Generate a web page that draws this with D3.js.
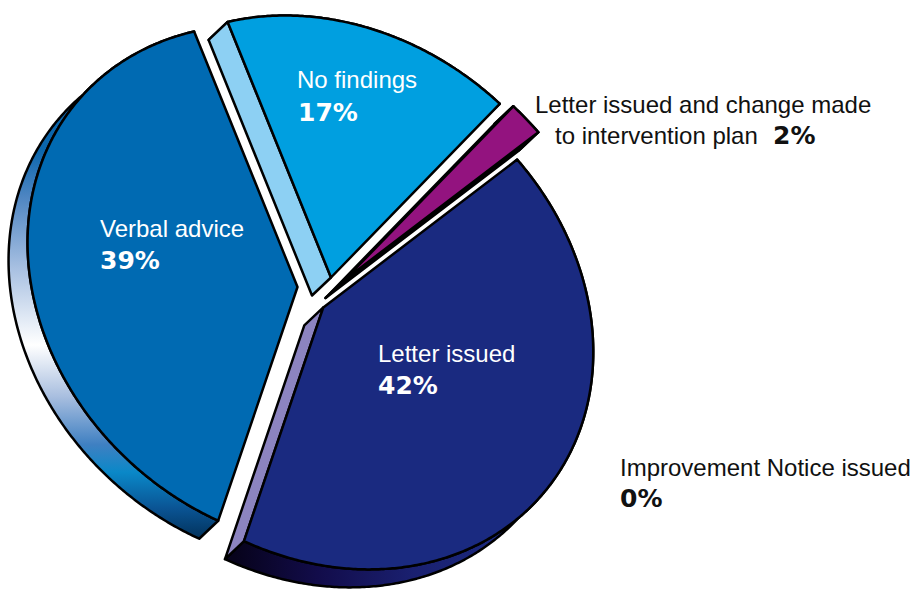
<!DOCTYPE html>
<html>
<head>
<meta charset="utf-8">
<script src="https://cdn.jsdelivr.net/npm/d3@7"></script>
<style>
  html,body{margin:0;padding:0;background:#fff;}
  svg{display:block;}
</style>
</head>
<body>
<svg id="chart" width="923" height="592"></svg>
<script>
// ---------------- data ----------------
const categories = [
  "No findings",
  "Letter issued and change made to intervention plan",
  "Improvement Notice issued",
  "Letter issued",
  "Verbal advice"
];
const values = [17, 2, 0, 42, 39];          // percent
const valueLabels = ["17%", "2%", "0%", "42%", "39%"];

// ---------------- layout / style (not data) ----------------
const W = 923, H = 592;
const center = [316, 296];
const semiMajor = 288, semiMinor = 242, tiltDeg = 40;
const startDeg = 342.3;
const depth = [-19, 18];
const explode = {                     // per-slice explosion offset (px)
  "No findings": [15, -18.5],
  "Letter issued and change made to intervention plan": [28.5, -16],
  "Improvement Notice issued": [0, 0],
  "Letter issued": [7.3, 11.4],
  "Verbal advice": [-18.5, -9]
};
const styles = {
  "No findings": {top: "#009fe0", startWall: "#8dd0f3", endWall: "#0088c8", arcWall: "#0077b8"},
  "Letter issued and change made to intervention plan": {top: "#93137f", startWall: "#000", endWall: "#000", arcWall: "#000"},
  "Improvement Notice issued": {top: "#ccc", startWall: "#999", endWall: "#999", arcWall: "#999"},
  "Letter issued": {top: "#1a2a80", startWall: "#1a2a80", endWall: "#8c84c0", arcWall: "url(#gradLetter)"},
  "Verbal advice": {top: "#006ab2", startWall: "#004f88", endWall: "#004f88", arcWall: "url(#gradVerbal)"}
};
const labelLayout = {
  "No findings": {x: 297, y: 88, color: "#fff", lines: ["No findings"], pct: [298, 121]},
  "Verbal advice": {x: 100, y: 237, color: "#fff", lines: ["Verbal advice"], pct: [100, 269]},
  "Letter issued": {x: 378, y: 362, color: "#fff", lines: ["Letter issued"], pct: [378, 394]},
  "Letter issued and change made to intervention plan": {x: 535, y: 113, color: "#111",
      lines: ["Letter issued and change made", "to intervention plan"], lineX: [535, 555], lineDy: 31, pct: [773, 144]},
  "Improvement Notice issued": {x: 620, y: 476, color: "#111", lines: ["Improvement Notice issued"], pct: [620, 507]}
};

// ---------------- drawing ----------------
const svg = d3.select("#chart");
const defs = svg.append("defs");

const gV = defs.append("linearGradient").attr("id", "gradVerbal")
  .attr("gradientUnits", "userSpaceOnUse").attr("x1", 0).attr("y1", 150).attr("x2", 0).attr("y2", 548);
[[0, "#0b66ac"], [0.12, "#4f86c2"], [0.3, "#a9c1e2"], [0.49, "#ffffff"], [0.62, "#a8bedf"],
 [0.74, "#3f80c2"], [0.81, "#0a88c8"], [0.9, "#0a5494"], [1, "#00284a"]]
  .forEach(([o, c]) => gV.append("stop").attr("offset", o).attr("stop-color", c));

const gL = defs.append("linearGradient").attr("id", "gradLetter")
  .attr("gradientUnits", "userSpaceOnUse").attr("x1", 235).attr("y1", 0).attr("x2", 510).attr("y2", 0);
[[0, "#07031c"], [0.3, "#120c4a"], [0.65, "#1a2070"], [1, "#1b2a80"]]
  .forEach(([o, c]) => gL.append("stop").attr("offset", o).attr("stop-color", c));

const tilt = tiltDeg * Math.PI / 180;
const u = [Math.cos(tilt), Math.sin(tilt)], v = [-Math.sin(tilt), Math.cos(tilt)];
function ell(t) {
  const px = Math.sin(t), py = -Math.cos(t);
  const pu = px * u[0] + py * u[1], pv = px * v[0] + py * v[1];
  return [semiMajor * pu * u[0] + semiMinor * pv * v[0],
          semiMajor * pu * u[1] + semiMinor * pv * v[1]];
}

const data = categories.map((c, i) => ({name: c, value: values[i], label: valueLabels[i]}));
const start = startDeg * Math.PI / 180;
const arcs = d3.pie().value(d => d.value).sort(null)
  .startAngle(start).endAngle(start + 2 * Math.PI)(data);

const line = d3.line().curve(d3.curveLinearClosed);
const add = (p, q) => [p[0] + q[0], p[1] + q[1]];

const gSlices = svg.append("g");
arcs.filter(a => a.value > 0).forEach(a => {
  const name = a.data.name, st = styles[name], off = explode[name];
  const hub = add(center, off);
  const n = Math.max(2, Math.ceil((a.endAngle - a.startAngle) / (0.5 * Math.PI / 180)));
  const pts = d3.range(n + 1).map(i => {
    const t = a.startAngle + (a.endAngle - a.startAngle) * i / n;
    return add(hub, ell(t));
  });
  const mid = pts[Math.floor(n / 2)];
  const g = gSlices.append("g");

  // outer (arc) wall ribbon
  const ribbon = pts.concat(pts.slice().reverse().map(p => add(p, depth)));
  g.append("path").attr("d", line(ribbon)).attr("fill", st.arcWall)
    .attr("stroke", "#000").attr("stroke-width", 2.5).attr("stroke-linejoin", "round");

  // radial walls (only if facing the depth direction)
  [[pts[0], st.startWall], [pts[n], st.endWall]].forEach(([corner, col]) => {
    const e = [corner[0] - hub[0], corner[1] - hub[1]];
    let nrm = [e[1], -e[0]];
    const toMid = [mid[0] - hub[0], mid[1] - hub[1]];
    if (nrm[0] * toMid[0] + nrm[1] * toMid[1] > 0) nrm = [-nrm[0], -nrm[1]];
    if (nrm[0] * depth[0] + nrm[1] * depth[1] > 0) {
      g.append("path").attr("d", line([hub, corner, add(corner, depth), add(hub, depth)]))
        .attr("fill", col).attr("stroke", "#000").attr("stroke-width", 2.5).attr("stroke-linejoin", "round");
    }
  });

  // top face
  g.append("path").attr("d", line([hub].concat(pts))).attr("fill", st.top)
    .attr("stroke", "#000").attr("stroke-width", 2.5).attr("stroke-linejoin", "round");
});

// labels
const nameFont = "'Liberation Sans', Arial, Helvetica, sans-serif";
const pctFont = "'DejaVu Sans', Verdana, sans-serif";
arcs.forEach(a => {
  const L = labelLayout[a.data.name];
  if (!L) return;
  L.lines.forEach((txt, i) => {
    svg.append("text")
      .attr("x", L.lineX ? L.lineX[i] : L.x)
      .attr("y", L.y + i * (L.lineDy || 0))
      .attr("font-family", nameFont).attr("font-size", 24)
      .attr("fill", L.color).text(txt);
  });
  svg.append("text").attr("x", L.pct[0]).attr("y", L.pct[1])
    .attr("font-family", pctFont).attr("font-weight", "bold").attr("font-size", 25)
    .attr("fill", L.color).text(a.data.label);
});
</script>
</body>
</html>
